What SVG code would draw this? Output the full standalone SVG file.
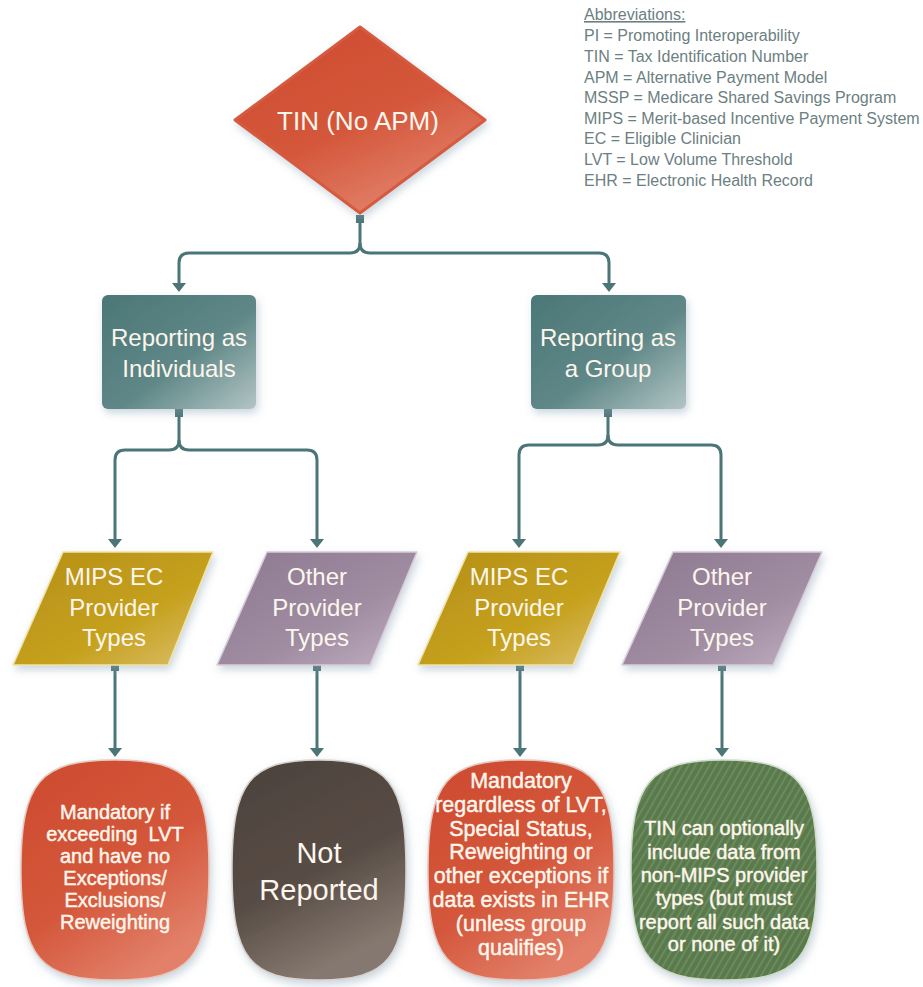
<svg xmlns="http://www.w3.org/2000/svg" width="923" height="987" viewBox="0 0 923 987">
<style>
.t{font-family:"Liberation Sans",Arial,sans-serif;fill:#fdf6ec;text-anchor:middle}
.b{stroke:#fdf6ec;stroke-width:0.45}
.ab{font-family:"Liberation Sans",Arial,sans-serif;fill:#6c8081;font-size:16px}
.cn{fill:none;stroke:#4b7576;stroke-width:3}
.sq{fill:#4b7576}
</style>
<defs>
<filter id="sh" x="-20%" y="-20%" width="140%" height="140%">
<feDropShadow dx="2" dy="4" stdDeviation="4" flood-color="#8aa3b5" flood-opacity="0.45"/>
</filter>
<marker id="ah" viewBox="0 0 9 14" refX="0" refY="7" markerWidth="9" markerHeight="14" orient="auto" markerUnits="userSpaceOnUse">
<path d="M0,0 L9,7 L0,14 z" fill="#4b7576"/>
</marker>
<linearGradient id="gRed" x1="0" y1="0" x2="0.6" y2="1">
<stop offset="0" stop-color="#cd4a2f"/><stop offset="0.6" stop-color="#d4573b"/><stop offset="1" stop-color="#e2806a"/>
</linearGradient>
<linearGradient id="gTeal" x1="0" y1="0" x2="1" y2="1">
<stop offset="0" stop-color="#4c7777"/><stop offset="0.55" stop-color="#5f8787"/><stop offset="1" stop-color="#b3c5c5"/>
</linearGradient>
<linearGradient id="gGold" x1="0" y1="0" x2="1" y2="1">
<stop offset="0" stop-color="#b48f16"/><stop offset="0.6" stop-color="#c6a11e"/><stop offset="1" stop-color="#dcc070"/>
</linearGradient>
<linearGradient id="gPurp" x1="0" y1="0" x2="1" y2="1">
<stop offset="0" stop-color="#8c7890"/><stop offset="0.6" stop-color="#a08da2"/><stop offset="1" stop-color="#c2b0c2"/>
</linearGradient>
<linearGradient id="gBrown" x1="0" y1="0" x2="0.4" y2="1">
<stop offset="0" stop-color="#4b423c"/><stop offset="0.6" stop-color="#574c45"/><stop offset="1" stop-color="#85786f"/>
</linearGradient>
<pattern id="stripe" patternUnits="userSpaceOnUse" width="6" height="6" patternTransform="rotate(30)">
<rect width="6" height="6" fill="#5a7a4c"/>
<line x1="1" y1="0" x2="1" y2="6" stroke="#6f8e62" stroke-width="1.6"/>
</pattern>
</defs>
<rect width="923" height="987" fill="#ffffff"/>

<g id="abbreviations">
<text class="ab" x="584" y="20" font-size="17" text-decoration="underline">Abbreviations:</text>
<text class="ab" x="584" y="41">PI = Promoting Interoperability</text>
<text class="ab" x="584" y="62">TIN = Tax Identification Number</text>
<text class="ab" x="584" y="83">APM = Alternative Payment Model</text>
<text class="ab" x="584" y="103">MSSP = Medicare Shared Savings Program</text>
<text class="ab" x="584" y="124">MIPS = Merit-based Incentive Payment System</text>
<text class="ab" x="584" y="144">EC = Eligible Clinician</text>
<text class="ab" x="584" y="165">LVT = Low Volume Threshold</text>
<text class="ab" x="584" y="186">EHR = Electronic Health Record</text>
</g>

<g id="connectors">
<rect class="sq" x="356" y="215" width="8" height="8"/>
<path class="cn" d="M360 223 V243 Q360 253 350 253 H189 Q179 253 179 263 V283" marker-end="url(#ah)"/>
<path class="cn" d="M360 243 Q360 253 370 253 H599 Q609 253 609 263 V283" marker-end="url(#ah)"/>
<rect class="sq" x="175" y="409" width="8" height="8"/>
<path class="cn" d="M179 417 V440 Q179 450 169 450 H125 Q115 450 115 460 V539" marker-end="url(#ah)"/>
<path class="cn" d="M179 440 Q179 450 189 450 H307 Q317 450 317 460 V539" marker-end="url(#ah)"/>
<rect class="sq" x="604" y="409" width="8" height="8"/>
<path class="cn" d="M608 417 V435 Q608 445 598 445 H529 Q519 445 519 455 V539" marker-end="url(#ah)"/>
<path class="cn" d="M608 435 Q608 445 618 445 H711 Q721 445 721 455 V539" marker-end="url(#ah)"/>
<rect class="sq" x="111" y="663" width="8" height="8"/>
<path class="cn" d="M115 671 V748" marker-end="url(#ah)"/>
<rect class="sq" x="313" y="663" width="8" height="8"/>
<path class="cn" d="M317 671 V748" marker-end="url(#ah)"/>
<rect class="sq" x="516" y="663" width="8" height="8"/>
<path class="cn" d="M520 671 V748" marker-end="url(#ah)"/>
<rect class="sq" x="718" y="663" width="8" height="8"/>
<path class="cn" d="M722 671 V748" marker-end="url(#ah)"/>
</g>

<g id="tin">
<polygon points="360,27 485,120 360,213 235,120" fill="url(#gRed)" stroke="#d65a3e" stroke-width="3" stroke-linejoin="round" filter="url(#sh)"/>
<text class="t" x="358" y="130" font-size="26">TIN (No APM)</text>
</g>

<g id="individuals">
<rect x="102" y="295" width="154" height="114" rx="6" fill="url(#gTeal)" filter="url(#sh)"/>
<text class="t" x="179" y="346" font-size="24">Reporting as</text>
<text class="t" x="179" y="377" font-size="24">Individuals</text>
</g>

<g id="group">
<rect x="531" y="295" width="155" height="114" rx="6" fill="url(#gTeal)" filter="url(#sh)"/>
<text class="t" x="608" y="346" font-size="24">Reporting as</text>
<text class="t" x="608" y="377" font-size="24">a Group</text>
</g>

<g id="mips-ind">
<polygon points="63,552 213,552 168,665 13,665" fill="url(#gGold)" stroke="#f1e3a4" stroke-width="1.5" stroke-linejoin="round" filter="url(#sh)"/>
<text class="t" x="114" y="585" font-size="24">MIPS EC</text>
<text class="t" x="114" y="616" font-size="24">Provider</text>
<text class="t" x="114" y="646" font-size="24">Types</text>
</g>

<g id="other-ind">
<polygon points="267,552 417,552 370,665 217,665" fill="url(#gPurp)" stroke="#d9cbd9" stroke-width="1.5" stroke-linejoin="round" filter="url(#sh)"/>
<text class="t" x="317" y="585" font-size="24">Other</text>
<text class="t" x="317" y="616" font-size="24">Provider</text>
<text class="t" x="317" y="646" font-size="24">Types</text>
</g>

<g id="mips-grp">
<polygon points="468,552 620,552 573,665 418,665" fill="url(#gGold)" stroke="#f1e3a4" stroke-width="1.5" stroke-linejoin="round" filter="url(#sh)"/>
<text class="t" x="519" y="585" font-size="24">MIPS EC</text>
<text class="t" x="519" y="616" font-size="24">Provider</text>
<text class="t" x="519" y="646" font-size="24">Types</text>
</g>

<g id="other-grp">
<polygon points="673,552 822,552 773,665 622,665" fill="url(#gPurp)" stroke="#d9cbd9" stroke-width="1.5" stroke-linejoin="round" filter="url(#sh)"/>
<text class="t" x="722" y="585" font-size="24">Other</text>
<text class="t" x="722" y="616" font-size="24">Provider</text>
<text class="t" x="722" y="646" font-size="24">Types</text>
</g>

<g id="mandatory-ind">
<path d="M115 760 C190.2 760 209 782 209 870 C209 958 190.2 980 115 980 C39.8 980 21 958 21 870 C21 782 39.8 760 115 760 Z" fill="url(#gRed)" stroke="#e6c7bd" stroke-width="1.5" filter="url(#sh)"/>
<g class="t b" font-size="20">
<text x="115" y="819">Mandatory if</text>
<text x="115" y="841">exceeding&#160; LVT</text>
<text x="115" y="863">and have no</text>
<text x="115" y="885">Exceptions/</text>
<text x="115" y="907">Exclusions/</text>
<text x="115" y="929">Reweighting</text>
</g>
</g>

<g id="not-reported">
<path d="M319 760 C388.6 760 406 782 406 870 C406 958 388.6 980 319 980 C249.4 980 232 958 232 870 C232 782 249.4 760 319 760 Z" fill="url(#gBrown)" stroke="#d8d2ce" stroke-width="1.5" filter="url(#sh)"/>
<text class="t" x="319" y="863" font-size="29">Not</text>
<text class="t" x="319" y="900" font-size="29">Reported</text>
</g>

<g id="mandatory-grp">
<path d="M521 760 C595.4 760 614 782 614 870 C614 958 595.4 980 521 980 C446.6 980 428 958 428 870 C428 782 446.6 760 521 760 Z" fill="url(#gRed)" stroke="#e6c7bd" stroke-width="1.5" filter="url(#sh)"/>
<g class="t b" font-size="21.5">
<text x="521" y="788">Mandatory</text>
<text x="521" y="812">regardless of LVT,</text>
<text x="521" y="836">Special Status,</text>
<text x="521" y="859">Reweighting or</text>
<text x="521" y="883">other exceptions if</text>
<text x="521" y="907">data exists in EHR</text>
<text x="521" y="931">(unless group</text>
<text x="521" y="955">qualifies)</text>
</g>
</g>

<g id="optional-grp">
<path d="M724 760 C798.4 760 817 782 817 870 C817 958 798.4 980 724 980 C649.6 980 631 958 631 870 C631 782 649.6 760 724 760 Z" fill="url(#stripe)" stroke="#cfdcc8" stroke-width="1.5" filter="url(#sh)"/>
<g class="t b" font-size="20">
<text x="724" y="835">TIN can optionally</text>
<text x="724" y="859">include data from</text>
<text x="724" y="882">non-MIPS provider</text>
<text x="724" y="905">types (but must</text>
<text x="724" y="929">report all such data</text>
<text x="724" y="951">or none of it)</text>
</g>
</g>
</svg>
